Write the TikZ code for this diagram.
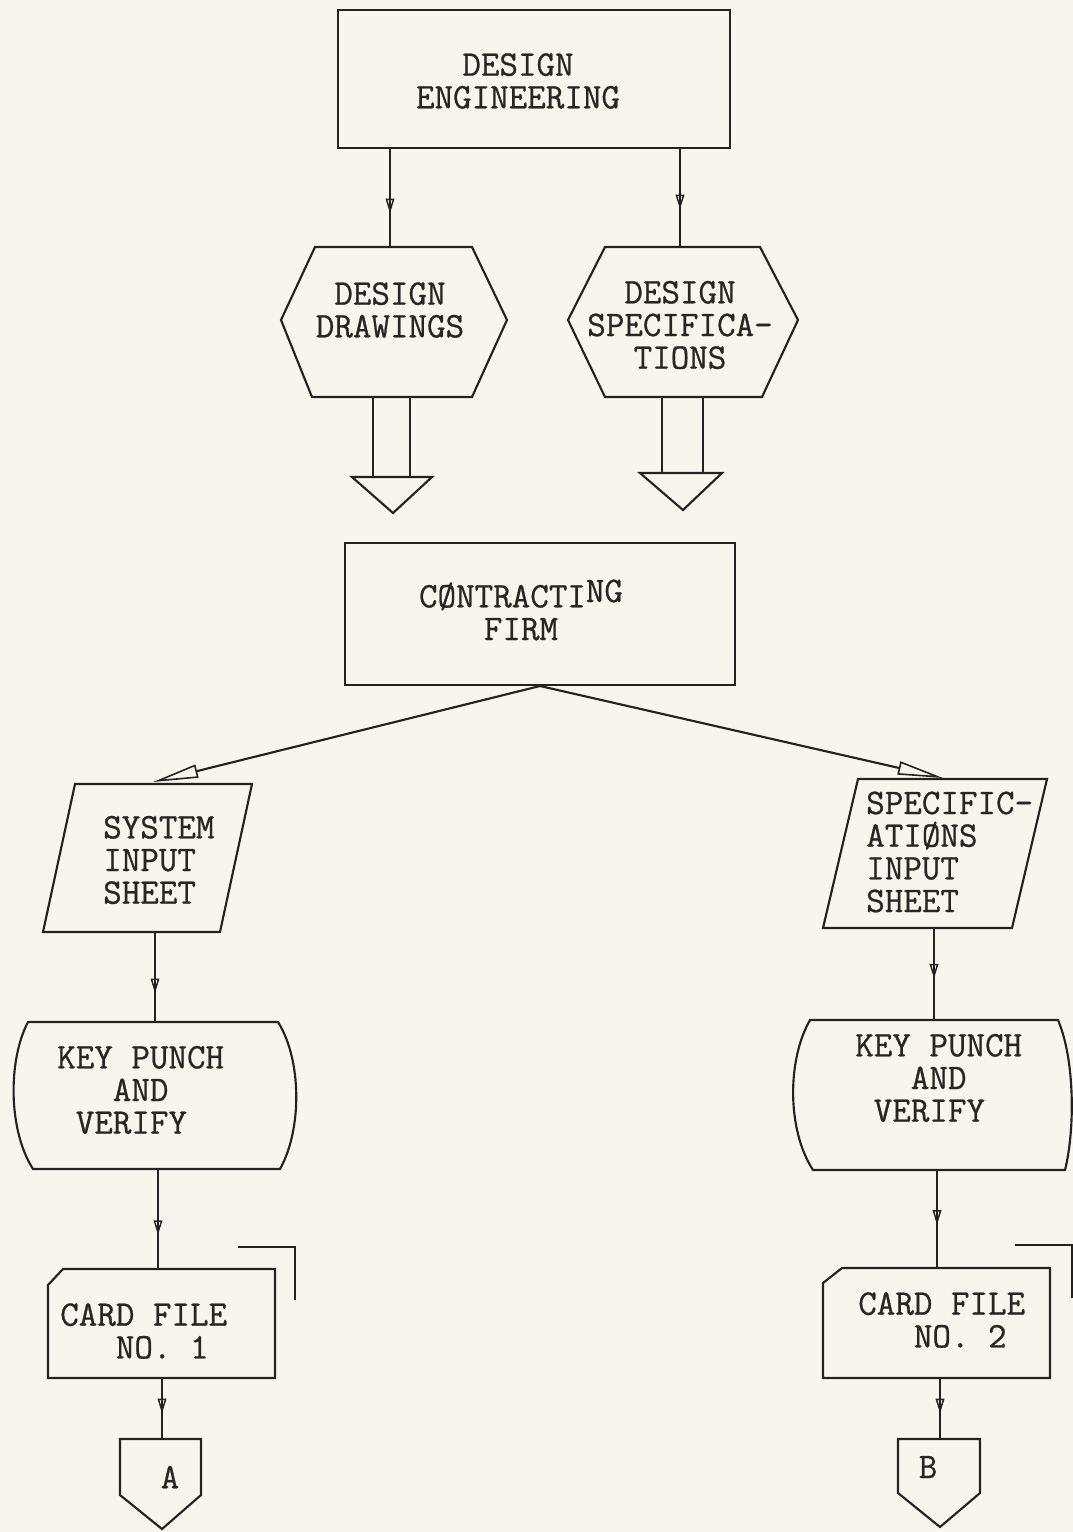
\documentclass[tikz,border=0pt]{standalone}
\usepackage{fontspec}
\usetikzlibrary{arrows.meta,decorations.markings}
\newfontfamily\typefont[FakeBold=0.7]{Latin Modern Mono}
\definecolor{paper}{RGB}{248,246,236}
\definecolor{inkc}{RGB}{36,34,32}
\definecolor{textc}{RGB}{40,38,36}
\newcommand\lblfont{\typefont\fontsize{27}{24.5}\selectfont}
\tikzset{
  ink/.style={draw=inkc, line width=1.6pt, line join=miter},
  midarrow/.style={ink, postaction={decorate, decoration={markings,
      mark=at position #1 with {\arrow[inkc, line width=1.1pt]{Triangle[open,length=11pt,width=6.5pt]}}}}},
  midarrow/.default=0.6,
  longarrow/.style={ink, -{Triangle[open,length=34pt,width=10pt,line width=1.2pt]}},
  lbl/.style={text=textc, font=\lblfont, inner sep=0pt},
}
\begin{document}
\begin{tikzpicture}[x=0.75pt, y=-0.75pt]
\useasboundingbox (0,0) rectangle (1073,1532);
\fill[paper] (0,0) rectangle (1073,1532);

% ---- design engineering ----
\draw[ink] (338,10) rectangle (730,148);
\node[lbl, align=center] (de) at (518,81) {DESIGN\\ENGINEERING};
\coordinate (de-l) at (390,148);
\coordinate (de-r) at (680,148);

% ---- design drawings (hexagon) ----
\draw[ink] (315,247) -- (472,247) -- (507,320) -- (472,397) -- (312,397) -- (281,320) -- cycle;
\node[lbl, align=center] (dd) at (390,310) {DESIGN\\DRAWINGS};
\coordinate (dd-n) at (390,247);

% ---- design specifications (hexagon) ----
\draw[ink] (605,247) -- (760,247) -- (798,320) -- (762,397) -- (605,397) -- (568,320) -- cycle;
\node[lbl, align=center] (ds) at (680,325) {DESIGN\\SPECIFICA-\\TIONS};
\coordinate (ds-n) at (680,247);

% ---- block arrows under the hexagons ----
\draw[ink] (373,397) -- (373,477) (410,397) -- (410,477);
\draw[ink] (352,477) -- (432,477) -- (393,513) -- cycle;
\draw[ink] (662,397) -- (662,473) (703,397) -- (703,473);
\draw[ink] (640,473) -- (722,473) -- (683,510) -- cycle;

\draw[midarrow=0.66] (de-l) -- (dd-n);
\draw[midarrow=0.62] (de-r) -- (ds-n);

% ---- contracting firm ----
\draw[ink] (345,543) rectangle (735,685);
\node[lbl, align=center] (cf) at (521,610) {CØNTRACTI\raisebox{4pt}{NG}\\FIRM};
\coordinate (cf-s) at (540,686);

% ---- system input sheet (parallelogram) ----
\draw[ink] (75,784) -- (252,784) -- (220,932) -- (43,932) -- cycle;
\node[lbl, align=left, anchor=west] (sis) at (103,860) {SYSTEM\\INPUT\\SHEET};
\coordinate (sis-n) at (153,782);
\coordinate (sis-s) at (155,932);

% ---- specifications input sheet (parallelogram) ----
\draw[ink] (858,779) -- (1047,779) -- (1012,928) -- (823,928) -- cycle;
\node[lbl, align=left, anchor=west] (spis) at (866,852) {SPECIFIC-\\ATIØNS\\INPUT\\SHEET};
\coordinate (spis-n) at (943,778);
\coordinate (spis-s) at (934,928);

\draw[longarrow] (cf-s) -- (sis-n);
\draw[longarrow] (cf-s) -- (spis-n);

% ---- key punch and verify (left) ----
\draw[ink] (28,1022) -- (278,1022)
  .. controls (302,1060) and (302,1130) .. (280,1169)
  -- (33,1169)
  .. controls (8,1130) and (8,1060) .. (28,1022) -- cycle;
\node[lbl, align=left, anchor=west] (kp1) at (57,1090) {KEY PUNCH\\\phantom{XXX}AND\\\phantom{X}VERIFY};
\coordinate (kp1-n) at (155,1022);
\coordinate (kp1-s) at (158,1169);

% ---- key punch and verify (right) ----
\draw[ink] (810,1020) -- (1058,1020)
  .. controls (1075,1060) and (1075,1130) .. (1065,1170)
  -- (813,1170)
  .. controls (787,1130) and (787,1060) .. (810,1020) -- cycle;
\node[lbl, align=left, anchor=west] (kp2) at (855,1078) {KEY PUNCH\\\phantom{XXX}AND\\\phantom{X}VERIFY};
\coordinate (kp2-n) at (934,1020);
\coordinate (kp2-s) at (937,1170);

\draw[midarrow=0.68] (sis-s) -- (kp1-n);
\draw[midarrow=0.55] (spis-s) -- (kp2-n);

% ---- card file no. 1 ----
\draw[ink] (63,1269) -- (275,1269) -- (275,1378) -- (48,1378) -- (48,1285) -- cycle;
\draw[ink] (238,1247) -- (295,1247) -- (295,1300);
\node[lbl, align=left, anchor=west] (cf1) at (60,1331) {CARD FILE\\\phantom{XXX}NO. 1};
\coordinate (cf1-n) at (158,1269);
\coordinate (cf1-s) at (162,1378);

% ---- card file no. 2 ----
\draw[ink] (842,1268) -- (1050,1268) -- (1050,1378) -- (823,1378) -- (823,1283) -- cycle;
\draw[ink] (1015,1245) -- (1072,1245) -- (1072,1298);
\node[lbl, align=left, anchor=west] (cf2) at (858,1320) {CARD FILE\\\phantom{XXX}NO. 2};
\coordinate (cf2-n) at (937,1268);
\coordinate (cf2-s) at (940,1378);

\draw[midarrow=0.66] (kp1-s) -- (cf1-n);
\draw[midarrow=0.56] (kp2-s) -- (cf2-n);

% ---- off-page connectors ----
\draw[ink] (120,1439) -- (201,1439) -- (201,1495) -- (162,1529) -- (120,1495) -- cycle;
\node[lbl] (pa) at (170,1477) {A};
\coordinate (pa-n) at (162,1439);
\draw[ink] (898,1439) -- (980,1439) -- (980,1493) -- (940,1527) -- (898,1493) -- cycle;
\node[lbl] (pb) at (928,1467) {B};
\coordinate (pb-n) at (940,1439);

\draw[midarrow=0.58] (cf1-s) -- (pa-n);
\draw[midarrow=0.58] (cf2-s) -- (pb-n);
\end{tikzpicture}
\end{document}
